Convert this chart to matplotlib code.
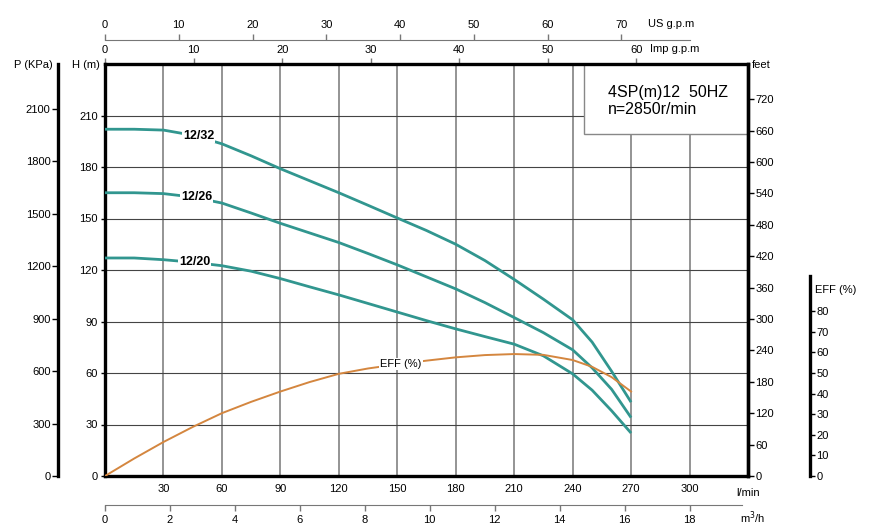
import matplotlib
matplotlib.use("Agg")
import matplotlib.pyplot as plt
from matplotlib.patches import Rectangle

plt.rcParams['font.family'] = ['Liberation Sans', 'DejaVu Sans']

# flow in l/min, heads in m, efficiency in %
flow = [0, 15, 30, 45, 60, 75, 90, 105, 120, 135, 150, 165, 180, 195, 210, 225, 240, 250, 260, 270]
head_12_32 = [202, 202, 201.5, 198.5, 193.5, 186.5, 179, 172, 165, 157.7, 150.3, 143, 135, 125.5, 114.5, 103, 91, 78, 61, 43]
head_12_26 = [165, 165, 164.5, 162.5, 159, 153.2, 147.2, 141.6, 136, 129.6, 123, 116, 109, 101, 92.3, 83.5, 73.5, 63, 50.5, 34]
head_12_20 = [127, 127, 126, 124.5, 122.5, 119.3, 115, 110.2, 105.5, 100.5, 95.5, 90.5, 85.7, 81.2, 76.8, 70, 59.5, 50, 38, 25]
eff = [0, 8.5, 16.5, 23.8, 30.5, 36, 41, 45.6, 49.6, 52.2, 54.2, 56, 57.6, 58.7, 59.2, 58.8, 56.3, 53, 48, 41]

curve_names = ["12/32", "12/26", "12/20"]
label_x = [48, 47, 46]

flow_ticks = [30, 60, 90, 120, 150, 180, 210, 240, 270, 300]
head_ticks = [0, 30, 60, 90, 120, 150, 180, 210]
kpa_ticks = [0, 300, 600, 900, 1200, 1500, 1800, 2100]
feet_ticks = [0, 60, 120, 180, 240, 300, 360, 420, 480, 540, 600, 660, 720]
eff_ticks = [0, 10, 20, 30, 40, 50, 60, 70, 80]
m3h_ticks = [0, 2, 4, 6, 8, 10, 12, 14, 16, 18]
imp_ticks = [0, 10, 20, 30, 40, 50, 60]
us_ticks = [0, 10, 20, 30, 40, 50, 60, 70]

XMAX, YMAX = 330, 240
TEAL, ORANGE = "#31968f", "#d4863f"
W, H = 870, 532
PX = 72 / 100  # points per pixel

fig = plt.figure(figsize=(8.7, 5.32), dpi=100)
L, R, B, T = 105 / W, 748 / W, 1 - 476 / H, 1 - 64 / H
ax = fig.add_axes([L, B, R - L, T - B])
ax.set_xlim(0, XMAX); ax.set_ylim(0, YMAX)
ax.set_xticks(flow_ticks); ax.set_yticks(head_ticks)
ax.set_axisbelow(True)
ax.grid(axis="x", color="#777777", lw=1.1)
ax.grid(axis="y", color="#444444", lw=0.8)
for s in ax.spines.values():
    s.set_linewidth(2.4)
ax.tick_params(axis="x", length=0, pad=6, labelsize=8)
ax.tick_params(axis="y", length=3, width=1, pad=2, labelsize=8)

for h, name, lx in zip([head_12_32, head_12_26, head_12_20], curve_names, label_x):
    ax.plot(flow, h, color=TEAL, lw=2.0, zorder=3, solid_capstyle="butt")
    yl = h[2] + (h[3] - h[2]) * (lx - 30) / 15
    ax.text(lx, yl, name, fontsize=9, fontweight="bold", ha="center", va="center", zorder=4,
            bbox=dict(boxstyle="square,pad=0.05", fc="white", ec="none"))

# info box
ax.add_patch(Rectangle((246, 199), XMAX - 246, YMAX - 199, fc="white", ec="#888888", lw=1, zorder=2.5))
ax.text(258, 223.5, "4SP(m)12  50HZ", fontsize=11.5, va="center", zorder=4)
ax.text(258, 213.5, "n=2850r/min", fontsize=11.5, va="center", zorder=4)

# pressure axis
ax_p = ax.twinx()
ax_p.set_ylim(0, YMAX * 9.81)
ax_p.yaxis.set_ticks_position("left"); ax_p.yaxis.set_label_position("left")
ax_p.spines["left"].set_position(("outward", 47 * PX))
ax_p.spines["left"].set_linewidth(2.4)
for k in ["right", "top", "bottom"]:
    ax_p.spines[k].set_visible(False)
ax_p.set_yticks(kpa_ticks)
ax_p.tick_params(axis="y", length=6 * PX, width=1, pad=1, labelsize=8)

# feet axis
ax_f = ax.twinx()
ax_f.set_ylim(0, YMAX * 3.2808)
ax_f.set_yticks(feet_ticks)
for k in ["left", "top", "bottom"]:
    ax_f.spines[k].set_visible(False)
ax_f.spines["right"].set_linewidth(2.4)
ax_f.tick_params(axis="y", length=6 * PX, width=1, pad=1, labelsize=8)

# efficiency axis
ax_e = ax.twinx()
ax_e.set_ylim(0, 200)
ax_e.spines["right"].set_position(("outward", 62 * PX))
ax_e.spines["right"].set_bounds(0, 97)
ax_e.spines["right"].set_linewidth(2.4)
for k in ["left", "top", "bottom"]:
    ax_e.spines[k].set_visible(False)
ax_e.set_yticks(eff_ticks)
ax_e.tick_params(axis="y", length=5 * PX, width=1, pad=1, labelsize=8)
ax_e.plot(flow, eff, color=ORANGE, lw=1.4, zorder=3)
ax_e.text(152, 54.5, "EFF (%)", fontsize=8, ha="center", va="center", zorder=4,
          bbox=dict(boxstyle="square,pad=0.1", fc="white", ec="none"))

# Imp g.p.m on top spine
sec_imp = ax.secondary_xaxis("top", functions=(lambda x: x / 4.546, lambda x: x * 4.546))
sec_imp.set_xticks(imp_ticks)
sec_imp.spines["top"].set_visible(False)
sec_imp.tick_params(length=6 * PX, width=1, color="#777777", pad=2, labelsize=8)

# US g.p.m axis
ax_us = fig.add_axes([L, 1 - 40 / H, R - L, 0])
ax_us.set_xlim(0, XMAX / 3.785)
ax_us.xaxis.set_ticks_position("top")
ax_us.set_xticks(us_ticks)
ax_us.set_yticks([])
for k in ["left", "right", "bottom"]:
    ax_us.spines[k].set_visible(False)
ax_us.spines["top"].set_color("#777777")
ax_us.spines["top"].set_bounds(0, 300 / 3.785)
ax_us.tick_params(length=6 * PX, width=1, color="#777777", pad=3, labelsize=8)
ax_us.patch.set_visible(False)

# m3/h axis
ax_m = fig.add_axes([L, 1 - 505 / H, R - L, 0])
ax_m.set_xlim(0, XMAX / 16.667)
ax_m.set_xticks(m3h_ticks)
ax_m.set_yticks([])
for k in ["left", "right", "top"]:
    ax_m.spines[k].set_visible(False)
ax_m.spines["bottom"].set_color("#777777")
ax_m.spines["bottom"].set_bounds(0, 327 / 16.667)
ax_m.tick_params(length=6 * PX, width=1, color="#777777", pad=3, labelsize=8)
ax_m.patch.set_visible(False)

# axis titles
def ftext(x, y, s, **kw):
    fig.text(x / W, 1 - y / H, s, fontsize=8, va="center", **kw)

ftext(53, 65, "P (KPa)", ha="right")
ftext(100, 65, "H (m)", ha="right")
ftext(752, 65, "feet", ha="left")
ftext(815, 290, "EFF (%)", ha="left")
ftext(736, 493, "l/min", ha="left")
ftext(740, 518, "m$^3$/h", ha="left")
ftext(648, 24, "US g.p.m", ha="left")
ftext(650, 49, "Imp g.p.m", ha="left")

fig.savefig("out.png", dpi=100)
